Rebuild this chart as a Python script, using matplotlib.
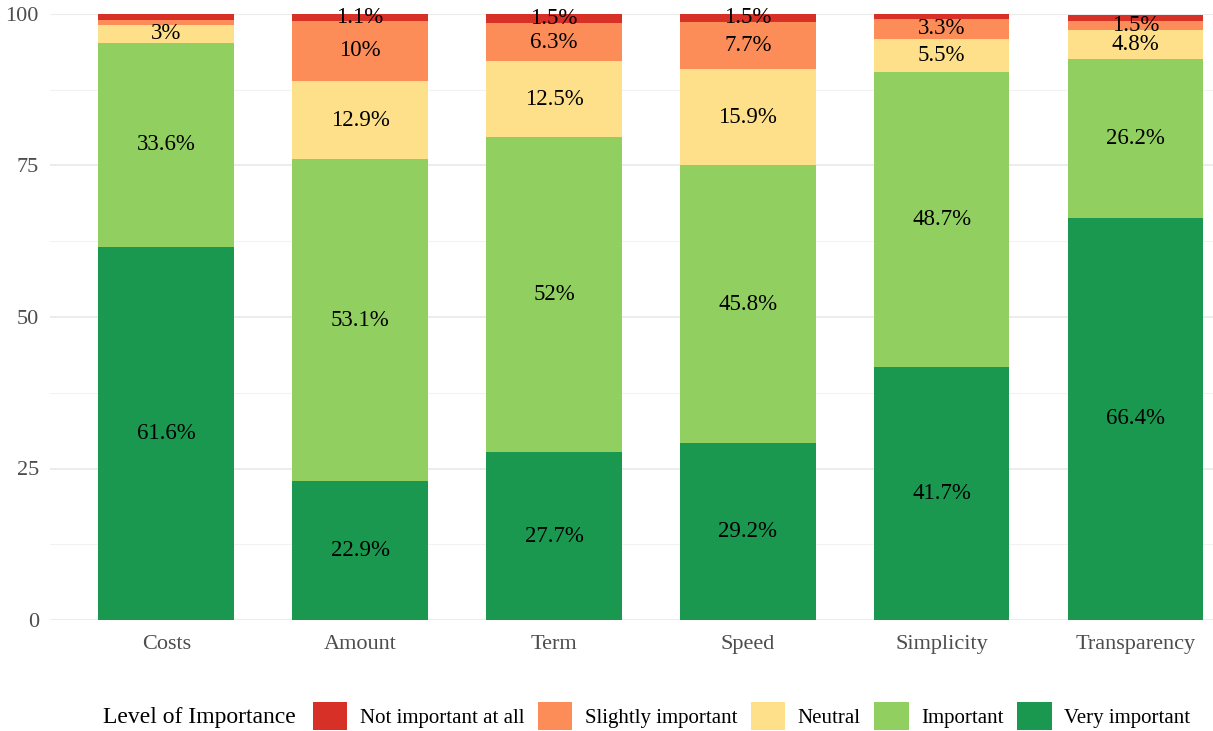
import matplotlib.pyplot as plt
from matplotlib.patches import Patch

# ---- DATA ----
factors = ["Costs", "Amount", "Term", "Speed", "Simplicity", "Transparency"]
levels = ["Very important", "Important", "Neutral", "Slightly important", "Not important at all"]
very_important     = [61.6, 22.9, 27.7, 29.2, 41.7, 66.4]
important          = [33.6, 53.1, 52.0, 45.8, 48.7, 26.2]
neutral            = [3.0, 12.9, 12.5, 15.9, 5.5, 4.8]
slightly_important = [0.8, 10.0, 6.3, 7.7, 3.3, 1.5]
not_important      = [1.0, 1.1, 1.5, 1.5, 0.8, 1.0]
y_ticks = [0, 25, 50, 75, 100]
# --------------

colors = {
    "Not important at all": "#d73027",
    "Slightly important":   "#fc8d59",
    "Neutral":              "#fee08b",
    "Important":            "#91cf60",
    "Very important":       "#1a9850",
}
series = [very_important, important, neutral, slightly_important, not_important]

plt.rcParams['font.family'] = ['Liberation Serif', 'DejaVu Serif']

fig = plt.figure(figsize=(12.13, 7.31), dpi=100)
ax = fig.add_axes([50 / 1213, 111 / 731, 1163 / 1213, 606 / 731])

x = list(range(len(factors)))
bottom = [0.0] * len(factors)
for name, vals in zip(levels, series):
    ax.bar(x, vals, width=0.7, bottom=bottom, color=colors[name], zorder=2)
    # small segments (<= 1%) are left unlabeled
    for i, v in enumerate(vals):
        if v > 1.05:
            ax.text(i, bottom[i] + v / 2, f"{v:g}%", ha="center", va="center",
                    fontsize=16.5, color="black", zorder=3)
    bottom = [b + v for b, v in zip(bottom, vals)]

ax.set_xlim(-0.6, 5.4)
ax.set_ylim(0, 100)
ax.set_xticks(x)
ax.set_xticklabels(factors)
ax.set_yticks(y_ticks)
ax.set_yticks([12.5, 37.5, 62.5, 87.5], minor=True)
ax.grid(axis="y", which="major", color="#ebebeb", linewidth=1.3, zorder=0)
ax.grid(axis="y", which="minor", color="#f2f2f2", linewidth=0.8, zorder=0)
ax.set_axisbelow(True)
for s in ax.spines.values():
    s.set_visible(False)
ax.tick_params(axis="both", which="both", length=0, labelsize=16, labelcolor="#4d4d4d")
ax.tick_params(axis="x", pad=11)
ax.tick_params(axis="y", pad=8)

fig.text(103 / 1213, (731 - 717) / 731, "Level of Importance", fontsize=17,
         ha="left", va="center", color="black")
handles = [Patch(facecolor=colors[n], edgecolor="none") for n in levels[::-1]]
fig.legend(handles, levels[::-1], loc="center left",
           bbox_to_anchor=(313 / 1213, (731 - 716) / 731), ncol=5, frameon=False,
           fontsize=15, handlelength=1.65, handleheight=1.65, handletextpad=0.6,
           columnspacing=0.65, borderpad=0, borderaxespad=0)

plt.savefig("out.png", dpi=100)
